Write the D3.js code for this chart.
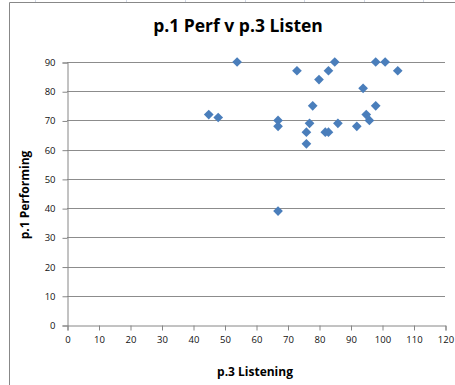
<!DOCTYPE html>
<html>
<head>
<meta charset="utf-8">
<script src="https://cdn.jsdelivr.net/npm/d3@7"></script>
<style>
  html, body { margin: 0; padding: 0; background: #ffffff; }
  svg { display: block; }
</style>
</head>
<body>
<svg id="chart" width="455" height="385"></svg>
<script>
// p.3 Listening scores (x) and p.1 Performing scores (y)
const listening  = [54, 45, 48, 73, 85, 80, 83, 98, 101, 105, 94, 78, 98, 95, 96, 67, 67, 77, 76, 76, 82, 83, 86, 92, 67];
const performing = [90, 72, 71, 87, 90, 84, 87, 90, 90, 87, 81, 75, 75, 72, 70, 70, 68, 69, 66, 62, 66, 66, 69, 68, 39];
const xTicks = [0, 10, 20, 30, 40, 50, 60, 70, 80, 90, 100, 110, 120];
const yTicks = [0, 10, 20, 30, 40, 50, 60, 70, 80, 90];

const titleText = "p.1 Perf v p.3 Listen";
const xTitle = "p.3 Listening";
const yTitle = "p.1 Performing";

const svg = d3.select("#chart");
const W = 455, H = 385;
const plot = { left: 67, right: 445, top: 62, bottom: 325 };
const fontFamily = "'Open Sans', 'Liberation Sans', sans-serif";

// worksheet cell lines behind the chart object
const cellCols = [35, 126, 185, 245, 304, 364, 423];
svg.selectAll("line.cell").data(cellCols).join("line")
  .attr("x1", d => d + 0.5).attr("x2", d => d + 0.5)
  .attr("y1", 0).attr("y2", 3)
  .attr("stroke", "#d0d7e5");

// chart area border
svg.append("path")
  .attr("d", `M9.5,${H} V2.5 H${W}`)
  .attr("fill", "none")
  .attr("stroke", "#888888");

const x = d3.scaleLinear().domain([0, 120]).range([plot.left, plot.right]);
const y = d3.scaleLinear().domain([0, 90]).range([plot.bottom, plot.top]);

// horizontal gridlines
svg.append("g")
  .selectAll("line")
  .data(yTicks.filter(d => d > 0))
  .join("line")
  .attr("x1", plot.left).attr("x2", plot.right)
  .attr("y1", d => Math.round(y(d)) + 0.5).attr("y2", d => Math.round(y(d)) + 0.5)
  .attr("stroke", "#8c8c8c").attr("stroke-width", 1);

// axes
const xAxis = svg.append("g")
  .attr("transform", `translate(0.5,${plot.bottom + 0.5})`)
  .call(d3.axisBottom(x).tickValues(xTicks).tickSize(5).tickPadding(6).tickFormat(d3.format("d")));
const yAxis = svg.append("g")
  .attr("transform", `translate(${plot.left + 0.5},0.5)`)
  .call(d3.axisLeft(y).tickValues(yTicks).tickSize(5).tickPadding(7).tickFormat(d3.format("d")));

[xAxis, yAxis].forEach(g => {
  g.select(".domain").attr("stroke", "#868686");
  g.selectAll(".tick line").attr("stroke", "#868686");
  g.selectAll(".tick text")
    .attr("fill", "#111111")
    .style("font-family", fontFamily)
    .style("font-size", "9.5px");
});

// diamond markers
const diamond = d3.symbol().type(d3.symbolDiamond2).size(60);
svg.append("g")
  .selectAll("path")
  .data(listening.map((v, i) => [v, performing[i]]))
  .join("path")
  .attr("transform", d => `translate(${x(d[0])},${y(d[1])})`)
  .attr("d", diamond)
  .attr("fill", "#4a7ebb");

// titles
svg.append("text")
  .attr("x", 238).attr("y", 32)
  .attr("text-anchor", "middle")
  .style("font-family", fontFamily)
  .style("font-weight", "bold")
  .style("font-size", "17.5px")
  .attr("fill", "#000")
  .text(titleText);

svg.append("text")
  .attr("x", 255).attr("y", 376)
  .attr("text-anchor", "middle")
  .style("font-family", fontFamily)
  .style("font-weight", "bold")
  .style("font-size", "12px")
  .attr("fill", "#000")
  .text(xTitle);

svg.append("text")
  .attr("transform", `translate(29,195) rotate(-90)`)
  .attr("text-anchor", "middle")
  .style("font-family", fontFamily)
  .style("font-weight", "bold")
  .style("font-size", "12px")
  .attr("fill", "#000")
  .text(yTitle);
</script>
</body>
</html>
